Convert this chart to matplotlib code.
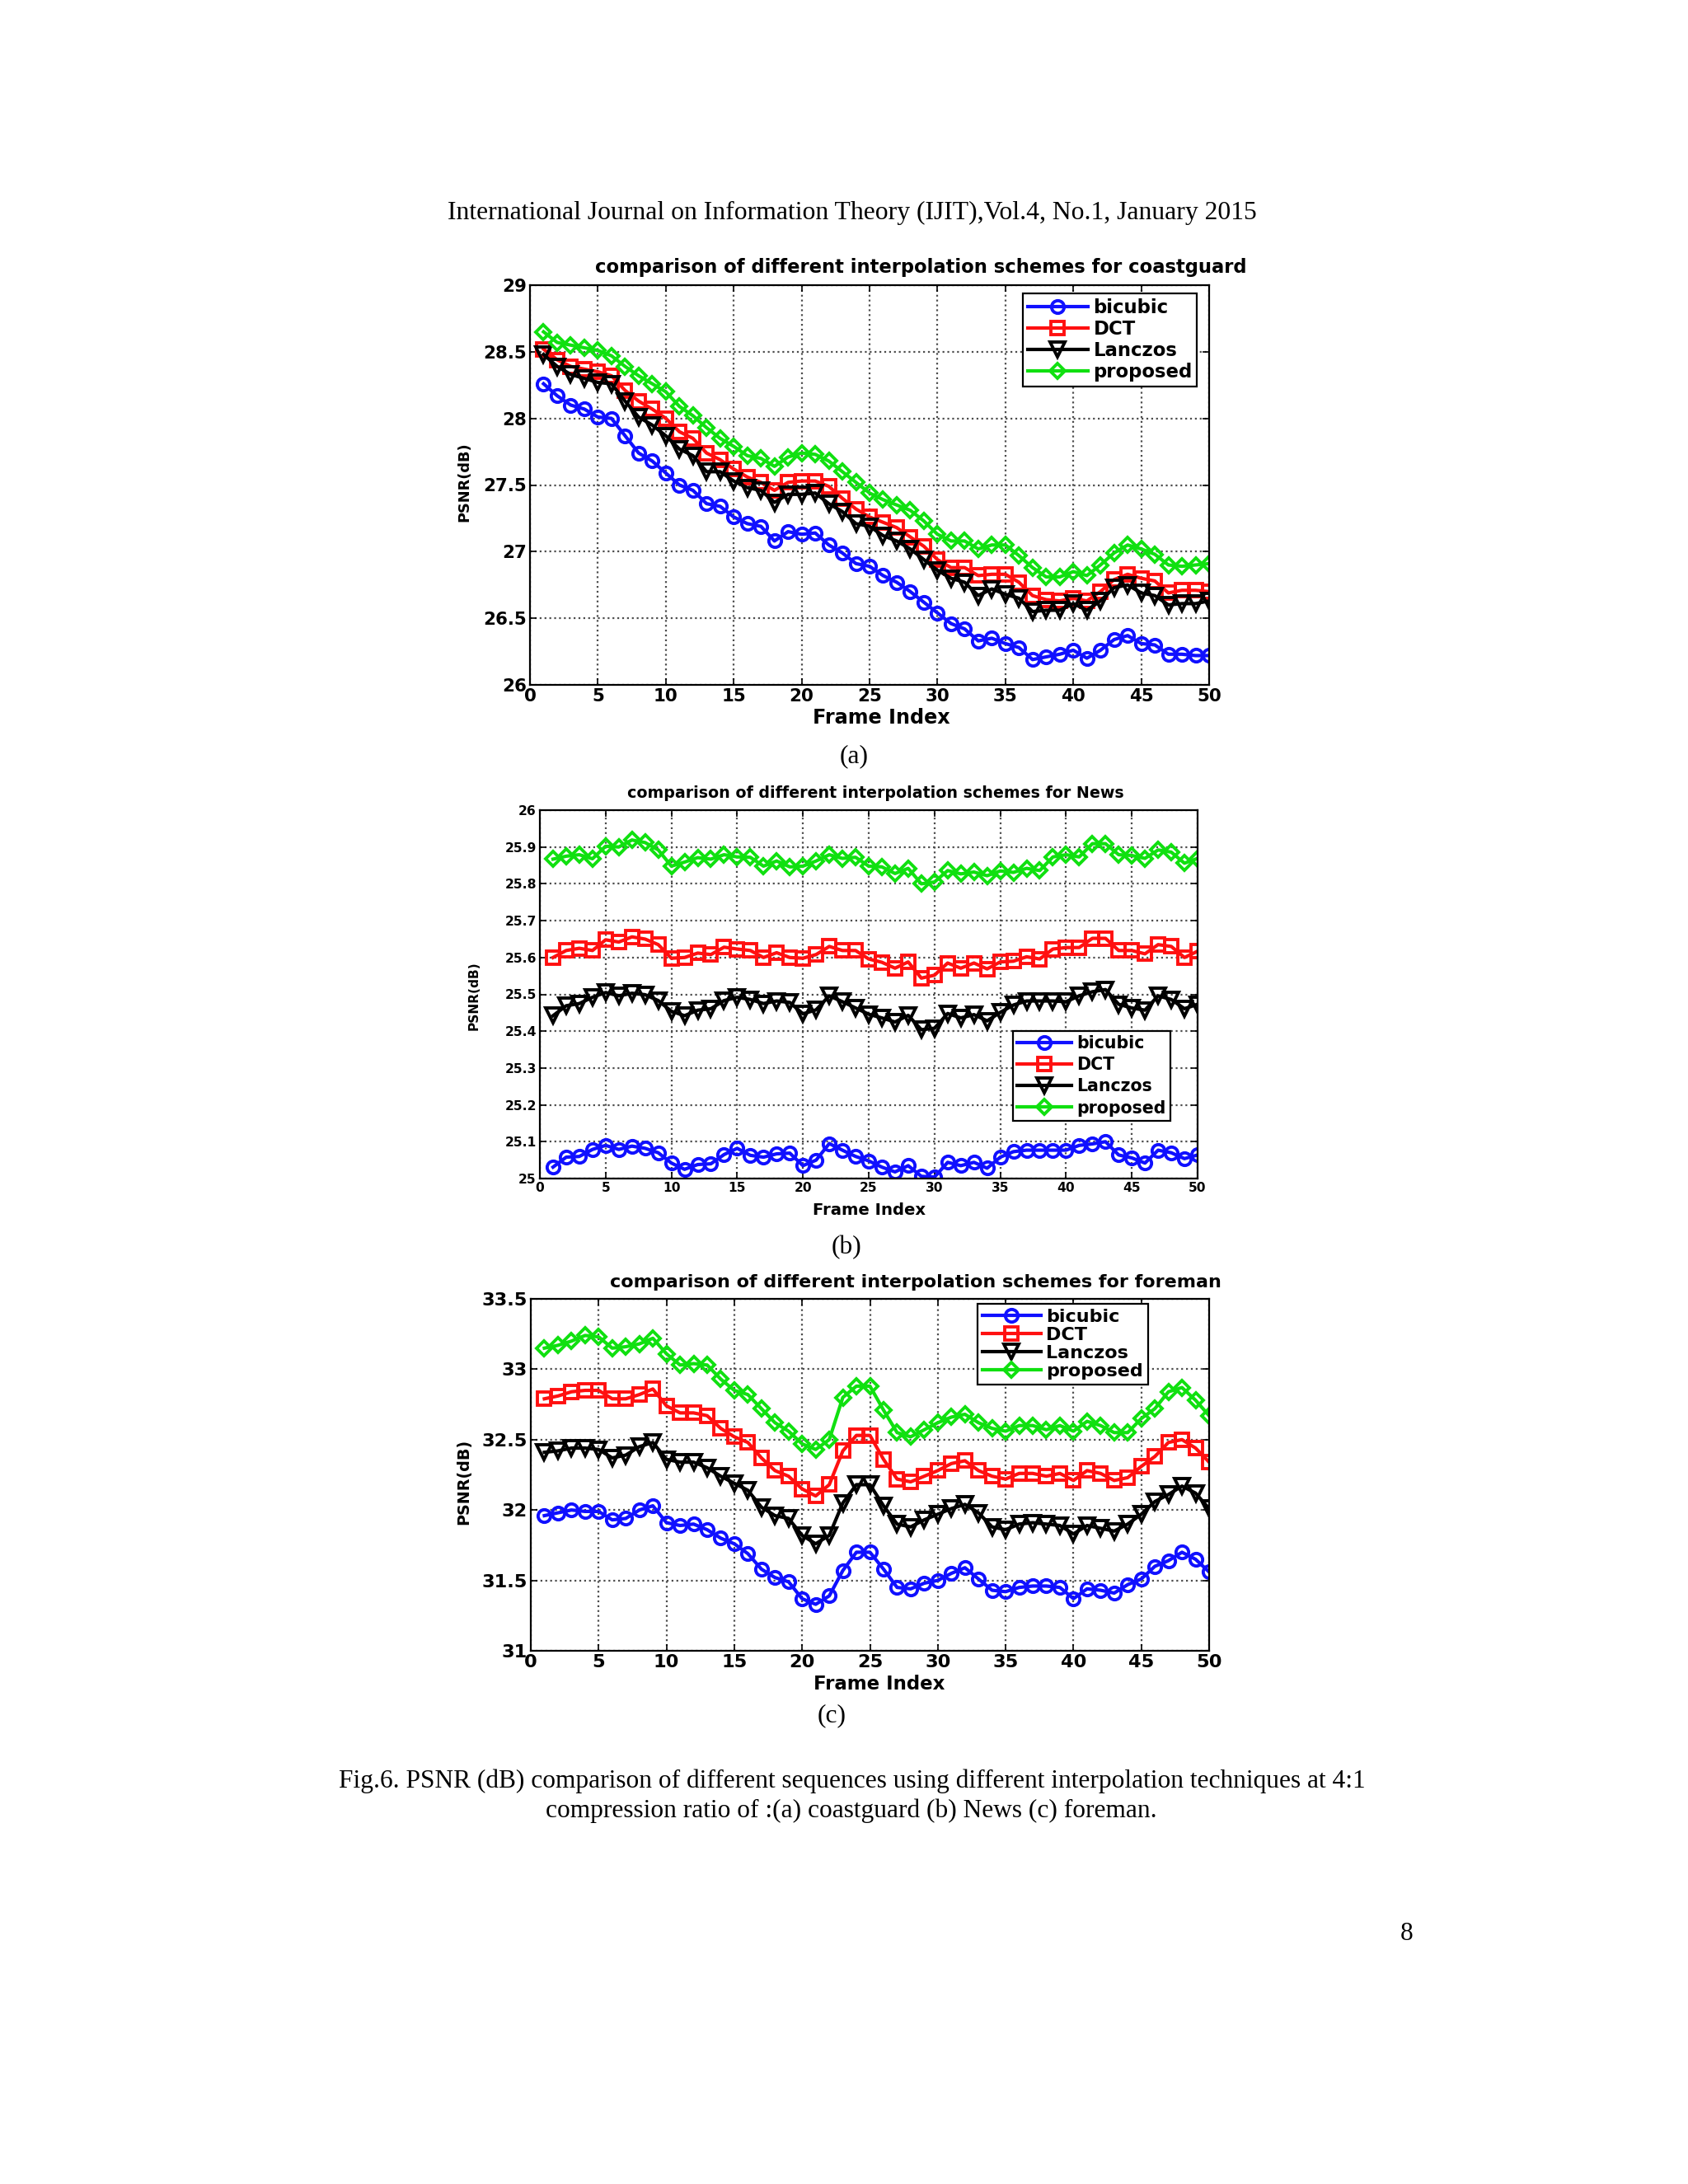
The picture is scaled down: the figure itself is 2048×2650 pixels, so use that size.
import matplotlib
matplotlib.use('Agg')
from matplotlib import pyplot as plt
from matplotlib.ticker import FormatStrFormatter

W, H = 2048, 2650

frames = list(range(1, 51))
series_names = ['bicubic', 'DCT', 'Lanczos', 'proposed']

# (a) coastguard
coast_bicubic = [28.26, 28.17, 28.10, 28.07, 28.01, 28.00, 27.87, 27.74, 27.68, 27.59,
                 27.50, 27.46, 27.36, 27.34, 27.26, 27.21, 27.19, 27.08, 27.15, 27.13,
                 27.14, 27.05, 26.99, 26.91, 26.89, 26.82, 26.77, 26.70, 26.62, 26.54,
                 26.46, 26.42, 26.33, 26.35, 26.31, 26.28, 26.19, 26.21, 26.23, 26.26,
                 26.20, 26.26, 26.34, 26.37, 26.31, 26.30, 26.23, 26.23, 26.22, 26.22]
coast_dct = [28.52, 28.44, 28.39, 28.37, 28.35, 28.32, 28.21, 28.13, 28.07, 28.00,
             27.90, 27.85, 27.74, 27.69, 27.62, 27.56, 27.52, 27.46, 27.52, 27.53,
             27.53, 27.49, 27.40, 27.32, 27.26, 27.22, 27.18, 27.11, 27.04, 26.94,
             26.88, 26.88, 26.82, 26.83, 26.83, 26.77, 26.67, 26.64, 26.63, 26.65,
             26.63, 26.70, 26.79, 26.83, 26.80, 26.78, 26.69, 26.71, 26.71, 26.70]
coast_lanczos = [28.48, 28.39, 28.33, 28.30, 28.27, 28.26, 28.13, 28.01, 27.95, 27.87,
                 27.77, 27.72, 27.60, 27.60, 27.53, 27.48, 27.46, 27.37, 27.43, 27.43,
                 27.44, 27.36, 27.30, 27.21, 27.19, 27.12, 27.08, 27.02, 26.94, 26.86,
                 26.80, 26.77, 26.67, 26.72, 26.68, 26.65, 26.55, 26.56, 26.56, 26.61,
                 26.56, 26.63, 26.73, 26.75, 26.69, 26.67, 26.60, 26.61, 26.61, 26.63]
coast_proposed = [28.65, 28.57, 28.55, 28.53, 28.51, 28.47, 28.39, 28.32, 28.26, 28.20,
                  28.09, 28.02, 27.93, 27.85, 27.79, 27.72, 27.70, 27.64, 27.71, 27.74,
                  27.73, 27.68, 27.60, 27.52, 27.44, 27.39, 27.35, 27.31, 27.23, 27.13,
                  27.08, 27.08, 27.02, 27.05, 27.05, 26.97, 26.88, 26.81, 26.81, 26.85,
                  26.82, 26.90, 26.99, 27.05, 27.02, 26.98, 26.90, 26.89, 26.90, 26.91]

# (b) News
news_bicubic = [25.031, 25.058, 25.060, 25.079, 25.090, 25.079, 25.088, 25.082, 25.070, 25.042,
                25.025, 25.038, 25.040, 25.065, 25.082, 25.063, 25.058, 25.067, 25.069, 25.035,
                25.050, 25.095, 25.077, 25.060, 25.048, 25.031, 25.018, 25.035, 25.006, 25.004,
                25.044, 25.035, 25.044, 25.028, 25.058, 25.073, 25.077, 25.077, 25.077, 25.077,
                25.090, 25.094, 25.100, 25.064, 25.056, 25.042, 25.077, 25.070, 25.054, 25.064]
news_dct = [25.600, 25.619, 25.625, 25.619, 25.648, 25.642, 25.656, 25.650, 25.635, 25.598,
            25.600, 25.612, 25.608, 25.628, 25.623, 25.619, 25.600, 25.613, 25.600, 25.598,
            25.608, 25.630, 25.619, 25.619, 25.596, 25.587, 25.571, 25.588, 25.544, 25.552,
            25.585, 25.571, 25.585, 25.569, 25.588, 25.590, 25.602, 25.596, 25.623, 25.627,
            25.627, 25.652, 25.652, 25.619, 25.619, 25.610, 25.635, 25.630, 25.600, 25.617]
news_lanczos = [25.442, 25.469, 25.475, 25.492, 25.505, 25.496, 25.503, 25.499, 25.483, 25.454,
                25.442, 25.457, 25.461, 25.483, 25.492, 25.486, 25.475, 25.482, 25.478, 25.447,
                25.458, 25.496, 25.480, 25.463, 25.446, 25.436, 25.425, 25.443, 25.404, 25.408,
                25.448, 25.436, 25.445, 25.428, 25.451, 25.471, 25.482, 25.482, 25.482, 25.480,
                25.496, 25.507, 25.513, 25.473, 25.463, 25.457, 25.496, 25.486, 25.461, 25.473]
news_proposed = [25.867, 25.875, 25.879, 25.868, 25.902, 25.900, 25.919, 25.912, 25.892, 25.848,
                 25.859, 25.871, 25.867, 25.879, 25.873, 25.872, 25.848, 25.862, 25.846, 25.848,
                 25.862, 25.879, 25.869, 25.872, 25.848, 25.846, 25.828, 25.842, 25.800, 25.805,
                 25.836, 25.827, 25.832, 25.822, 25.835, 25.831, 25.842, 25.836, 25.873, 25.879,
                 25.873, 25.909, 25.909, 25.879, 25.877, 25.869, 25.892, 25.886, 25.856, 25.869]

# (c) foreman
fore_bicubic = [31.96, 31.98, 32.00, 31.99, 31.99, 31.93, 31.94, 32.00, 32.03, 31.91,
                31.89, 31.90, 31.86, 31.80, 31.76, 31.69, 31.58, 31.52, 31.49, 31.37,
                31.33, 31.39, 31.57, 31.70, 31.70, 31.58, 31.45, 31.44, 31.48, 31.50,
                31.55, 31.59, 31.51, 31.43, 31.42, 31.45, 31.46, 31.46, 31.45, 31.37,
                31.44, 31.43, 31.41, 31.47, 31.51, 31.60, 31.64, 31.70, 31.65, 31.56]
fore_dct = [32.79, 32.81, 32.84, 32.85, 32.85, 32.79, 32.79, 32.82, 32.86, 32.74,
            32.69, 32.69, 32.67, 32.58, 32.52, 32.48, 32.37, 32.28, 32.24, 32.15,
            32.10, 32.18, 32.42, 32.53, 32.53, 32.36, 32.22, 32.20, 32.24, 32.28,
            32.33, 32.35, 32.28, 32.24, 32.22, 32.26, 32.26, 32.24, 32.26, 32.21,
            32.28, 32.26, 32.21, 32.23, 32.31, 32.38, 32.48, 32.50, 32.44, 32.34]
fore_lanczos = [32.41, 32.42, 32.44, 32.44, 32.43, 32.37, 32.39, 32.45, 32.48, 32.36,
                32.34, 32.34, 32.30, 32.24, 32.19, 32.14, 32.02, 31.96, 31.94, 31.82,
                31.76, 31.82, 32.05, 32.18, 32.18, 32.03, 31.90, 31.88, 31.93, 31.97,
                32.01, 32.04, 31.98, 31.88, 31.86, 31.90, 31.91, 31.90, 31.89, 31.83,
                31.89, 31.87, 31.85, 31.90, 31.97, 32.06, 32.11, 32.17, 32.12, 32.01]
fore_proposed = [33.15, 33.17, 33.20, 33.24, 33.23, 33.15, 33.16, 33.18, 33.22, 33.11,
                 33.03, 33.04, 33.03, 32.93, 32.85, 32.82, 32.72, 32.62, 32.56, 32.47,
                 32.43, 32.50, 32.80, 32.88, 32.88, 32.71, 32.55, 32.52, 32.57, 32.62,
                 32.66, 32.68, 32.62, 32.58, 32.56, 32.60, 32.60, 32.57, 32.60, 32.56,
                 32.63, 32.60, 32.55, 32.55, 32.65, 32.72, 32.84, 32.87, 32.78, 32.67]

xticks = list(range(0, 51, 5))
yticks_a = [26, 26.5, 27, 27.5, 28, 28.5, 29]
yticks_b = [25, 25.1, 25.2, 25.3, 25.4, 25.5, 25.6, 25.7, 25.8, 25.9, 26]
yticks_c = [31, 31.5, 32, 32.5, 33, 33.5]

colors = ['#1010ff', '#ff1010', 'black', '#10e010']
markers = ['o', 's', 'v', 'D']
msizes = [5.5, 5.5, 6.2, 4.6]

plt.rcParams['font.family'] = ['DejaVu Sans']

fig = plt.figure(figsize=(W / 200, H / 200), dpi=200)
fig.patch.set_facecolor('white')
renderer = fig.canvas.get_renderer()


def put(x, y, s, width=None, size=10, rotation=0, **kw):
    # place text at pixel coords; optionally scale font so its length matches
    t = fig.text(x / W, 1 - y / H, s, ha='center', va='center',
                 rotation=rotation, fontsize=size, **kw)
    if width:
        ext = t.get_window_extent(renderer)
        cur = ext.height if rotation else ext.width
        t.set_fontsize(size * width / cur)
    return t


def panel(box, data, ylim, yticks, tick_size, leg_pos, leg_size, leg_space,
          title, tbox, ylab, xlab):
    left, top, right, bottom = box
    ax = fig.add_axes([left / W, 1 - bottom / H, (right - left) / W, (bottom - top) / H])
    for vals, c, m, ms, name in zip(data, colors, markers, msizes, series_names):
        ax.plot(frames, vals, color=c, marker=m, markersize=ms, markerfacecolor='none',
                markeredgewidth=1.4, linewidth=1.5, label=name)
    ax.set_xlim(0, 50)
    ax.set_ylim(*ylim)
    ax.set_xticks(xticks)
    ax.set_yticks(yticks)
    ax.yaxis.set_major_formatter(FormatStrFormatter('%g'))
    ax.grid(True, linestyle=':', color='0.3', linewidth=0.8)
    ax.set_axisbelow(True)
    ax.tick_params(direction='in', length=3, top=True, right=True, pad=1.5,
                   labelsize=tick_size, width=0.6)
    for lab in ax.get_xticklabels() + ax.get_yticklabels():
        lab.set_fontweight('bold')
    for sp in ax.spines.values():
        sp.set_linewidth(0.8)
    leg = ax.legend(loc='upper left', bbox_to_anchor=(leg_pos[0] / W, 1 - leg_pos[1] / H),
                    bbox_transform=fig.transFigure, borderaxespad=0, fancybox=False,
                    framealpha=1, edgecolor='black', handlelength=3.2, handletextpad=0.3,
                    labelspacing=leg_space, borderpad=0.25,
                    prop={'size': leg_size, 'weight': 'bold'})
    leg.get_frame().set_linewidth(0.8)
    put(tbox[0], tbox[1], title, width=tbox[2], weight='bold')
    put(ylab[0], ylab[1], 'PSNR(dB)', width=ylab[2], rotation=90, weight='bold')
    put(xlab[0], xlab[1], 'Frame Index', width=xlab[2], weight='bold')
    return ax


panel((643, 346, 1467, 831), [coast_bicubic, coast_dct, coast_lanczos, coast_proposed],
      (26, 29), yticks_a, 7.7, (1241, 356), 8.2, 0.14,
      'comparison of different interpolation schemes for coastguard', (1117, 324, 789),
      (563, 585, 97), (1069, 871, 167))

panel((655, 983, 1453, 1430), [news_bicubic, news_dct, news_lanczos, news_proposed],
      (25, 26), yticks_b, 5.6, (1229, 1251), 7.4, 0.3,
      'comparison of different interpolation schemes for News', (1062, 963, 600),
      (575, 1208, 84), (1055, 1468, 137))

panel((644, 1576, 1467, 2003), [fore_bicubic, fore_dct, fore_lanczos, fore_proposed],
      (31, 33.5), yticks_c, 8.1, (1186, 1582), 8.0, 0.1,
      'comparison of different interpolation schemes for foreman', (1111, 1556, 742),
      (563, 1798, 104), (1067, 2043, 160))

serif = 'Liberation Serif'
put(1034, 258, 'International Journal on Information Theory (IJIT),Vol.4, No.1, January 2015',
    width=979, family=serif)
cap = put(1034, 2161, 'Fig.6. PSNR (dB) comparison of different sequences using different '
          'interpolation techniques at 4:1', width=1247, family=serif)
cs = cap.get_fontsize()
put(1033, 2197, 'compression ratio of :(a) coastguard (b) News (c) foreman.', size=cs, family=serif)
put(1036, 918, '(a)', size=cs, family=serif)
put(1027, 1514, '(b)', size=cs, family=serif)
put(1009, 2082, '(c)', size=cs, family=serif)
put(1707, 2346, '8', size=cs, family=serif)

fig.savefig('out.png', dpi=200, facecolor='white')
